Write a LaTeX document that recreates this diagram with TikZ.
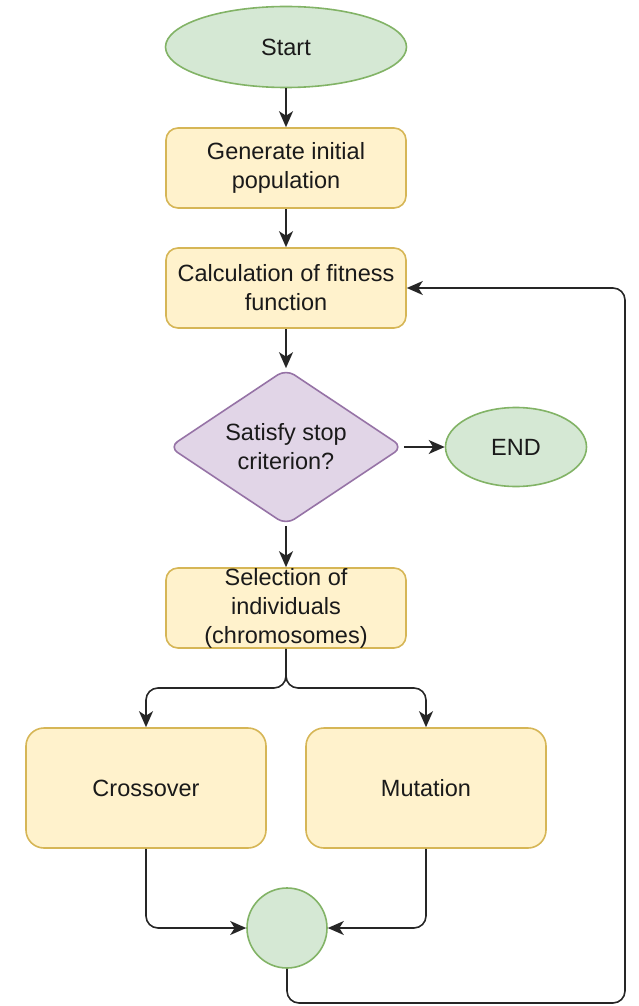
\documentclass[tikz,border=0pt]{standalone}
\usepackage{fontspec}
\setmainfont{Liberation Sans}
\usetikzlibrary{shapes.geometric,arrows.meta}
\definecolor{boxfill}{HTML}{FFF2CC}
\definecolor{boxline}{HTML}{D6B656}
\definecolor{termfill}{HTML}{D5E8D4}
\definecolor{termline}{HTML}{82B366}
\definecolor{decfill}{HTML}{E1D5E7}
\definecolor{decline}{HTML}{9673A6}
\definecolor{txt}{HTML}{1A1A1A}
\tikzset{
  base/.style={line width=1.6pt, text=txt, font=\fontsize{23.5}{29}\selectfont, align=center, inner sep=0pt},
  procbox/.style={base, rectangle, rounded corners=12pt, draw=boxline, fill=boxfill,
    minimum width=240pt, minimum height=80pt},
  bigbox/.style={procbox, rounded corners=18pt, minimum height=120pt},
  term/.style={base, ellipse, draw=termline, fill=termfill},
  decision/.style={base, diamond, rounded corners=10pt, draw=decline, fill=decfill,
    inner xsep=-50pt, inner ysep=-20pt, minimum width=234pt, minimum height=156pt},
  flow/.style={line width=1.6pt, draw=black!85, rounded corners=12pt,
    -{Stealth[length=16pt, width=14pt, inset=4.5pt]}},
}
\begin{document}
\begin{tikzpicture}[x=1pt, y=-1pt]
  \useasboundingbox (0,0) rectangle (638,1006);

  % main column
  \node[term, minimum width=241pt, minimum height=81pt] (start) at (286,47) {Start};
  \node[procbox] (init) at (286,168) {Generate initial\\population};
  \node[procbox] (fit) at (286,288) {Calculation of fitness\\function};
  \node[decision] (stop) at (286,447) {Satisfy stop\\criterion?};
  \node[term, minimum width=141pt, minimum height=79pt] (end) at (516,447) {END};
  \node[procbox] (sel) at (286,608) {Selection of\\individuals\\(chromosomes)};

  % genetic operators
  \node[bigbox] (cross) at (146,788) {Crossover};
  \node[bigbox] (mut) at (426,788) {Mutation};
  \node[term, minimum width=80pt, minimum height=80pt] (join) at (287,928) {};

  % routing points
  \coordinate (split) at (286,688);
  \coordinate (loopA) at (287,1003);
  \coordinate (loopB) at (625,1003);
  \coordinate (loopC) at (625,288);

  \draw[flow] (start) -- (init);
  \draw[flow] (init) -- (fit);
  \draw[flow] (fit) -- (stop);
  \draw[flow] (stop) -- (end);
  \draw[flow] (stop) -- (sel);
  \draw[flow] (sel.south) -- (split) -| (cross.north);
  \draw[flow] (sel.south) -- (split) -| (mut.north);
  \draw[flow] (cross.south) |- (join.west);
  \draw[flow] (mut.south) |- (join.east);
  \draw[flow] (join.south) -- (loopA) -- (loopB) -- (loopC) -- (fit.east);
\end{tikzpicture}
\end{document}
